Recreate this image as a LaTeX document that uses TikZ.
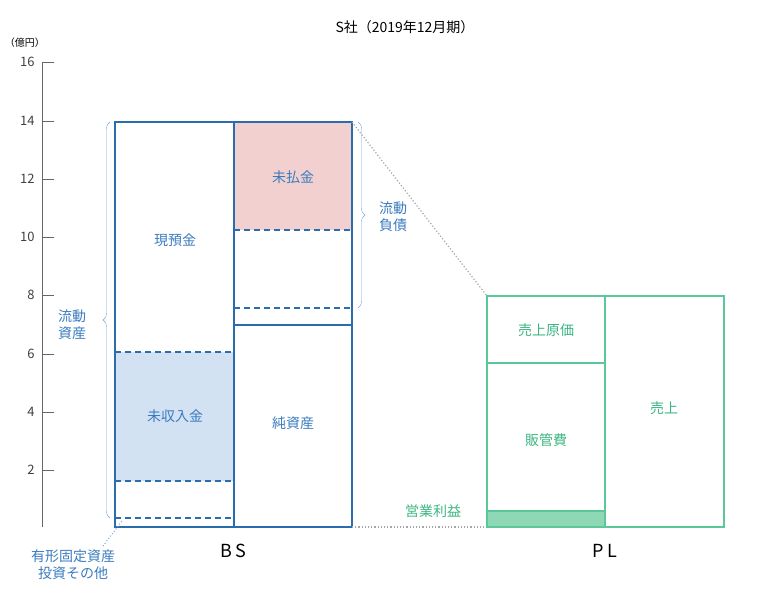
\documentclass[tikz,border=0pt]{standalone}
\usepackage{fontspec}
\setmainfont{Noto Sans CJK JP}
\usetikzlibrary{decorations.pathreplacing}
\definecolor{bsb}{HTML}{2A6DAE}
\definecolor{txb}{HTML}{3A7BBF}
\definecolor{grn}{HTML}{5CC79A}
\definecolor{gtx}{HTML}{3DB583}
\definecolor{pnk}{HTML}{F2D0D0}
\definecolor{lbl}{HTML}{D2E2F3}
\definecolor{gfl}{HTML}{8ED8B5}
\begin{document}
\begin{tikzpicture}[x=1pt,y=-1pt,
  bt/.style={font=\fontsize{14}{17}\selectfont,text=txb},
  gt/.style={font=\fontsize{14}{17}\selectfont,text=gtx},
  tk/.style={font=\fontsize{13}{15}\selectfont,text=black!75,anchor=east},
  dsh/.style={bsb,line width=1.2pt,dash pattern=on 6pt off 4pt},
  dot/.style={gray!70,dotted,line width=1.2pt}]
\useasboundingbox (0,0) rectangle (780,593);
\node (title) at (405,27) {\fontsize{14}{17}\selectfont S社（2019年12月期）};
\node (unit) at (25,43) {\fontsize{10}{12}\selectfont （億円）};
% axis
\draw[black!60] (42,62) -- (42,527);
\foreach \v/\y in {16/62,14/121,12/179,10/237,8/295,6/354,4/412,2/470}{
  \draw[black!60] (42,\y) -- (54,\y);
  \node[tk] (t\v) at (38,\y) {\v};}
% BS fills
\fill[pnk] (234,123) rectangle (352,230);
\fill[lbl] (115,352) rectangle (234,481);
\draw[dsh] (115,352) -- (234,352);
\draw[dsh] (115,481) -- (234,481);
\draw[dsh] (115,518) -- (234,518);
\draw[dsh] (234,230) -- (352,230);
\draw[dsh] (234,308) -- (352,308);
\draw[bsb,line width=1.2pt] (234,325) -- (352,325);
\draw[bsb,line width=2pt] (115,122) rectangle (352,527);
\draw[bsb,line width=2pt] (234,122) -- (234,527);
\node[bt] (genyo) at (175,240) {現預金};
\node[bt] (mishu) at (175,416) {未収入金};
\node[bt] (miharai) at (293,177) {未払金};
\node[bt] (jun) at (293,423) {純資産};
% braces
\draw[txb!70,decorate,decoration={brace,amplitude=7pt}] (110,518) -- (110,122);
\node[bt,align=center] (ryu1) at (72,325) {流動\\資産};
\draw[txb!70,decorate,decoration={brace,amplitude=7pt}] (358,122) -- (358,308);
\node[bt,align=center] (ryu2) at (393,217) {流動\\負債};
\coordinate (bsTR) at (352,122);
\coordinate (bsBR) at (352,527);
\coordinate (plTL) at (487,296);
\coordinate (plBL) at (487,527);
\draw[dot] (bsTR) -- (plTL);
\draw[dot] (bsBR) -- (plBL);
% PL
\fill[gfl] (487,511) rectangle (605,527);
\draw[grn,line width=1.8pt] (487,296) rectangle (724,527);
\draw[grn,line width=1.8pt] (605,296) -- (605,527);
\draw[grn,line width=1.8pt] (487,363) -- (605,363);
\draw[grn,line width=1.8pt] (487,511) -- (605,511);
\node[gt] (genka) at (546,330) {売上原価};
\node[gt] (hankan) at (546,440) {販管費};
\node[gt] (uri) at (664,408) {売上};
\node[gt] (eigyo) at (433,511) {営業利益};
% labels
\node[bt,align=center] (yukei) at (73,565) {有形固定資産\\投資その他};
\coordinate (lead) at (122,521);
\draw[txb!70,dotted,line width=1pt] (103,546) -- (lead);
\node (bs) at (233,551) {\fontsize{18}{20}\selectfont B\,S};
\node (pl) at (605,551) {\fontsize{18}{20}\selectfont P\,L};
\end{tikzpicture}
\end{document}
